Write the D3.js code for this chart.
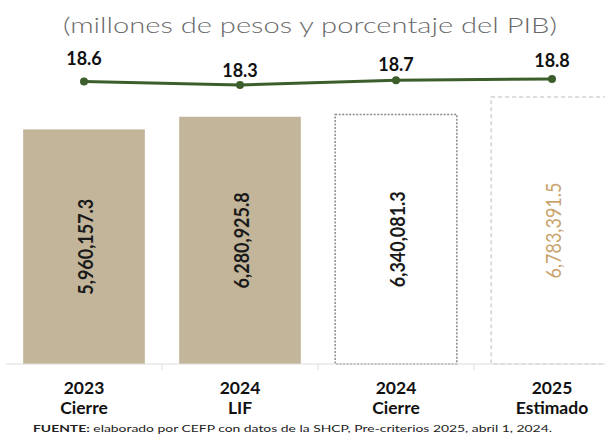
<!DOCTYPE html>
<html><head><meta charset="utf-8">
<script src="https://cdn.jsdelivr.net/npm/d3@7"></script>
<style>html,body{margin:0;padding:0;background:#fff;}svg{display:block;}</style>
</head><body><div id="chart"></div>
<script>
const categories = ["2023|Cierre", "2024|LIF", "2024|Cierre", "2025|Estimado"];
const amounts = [5960157.3, 6280925.8, 6340081.3, 6783391.5];
const amountLabels = ["5,960,157.3", "6,280,925.8", "6,340,081.3", "6,783,391.5"];
const pctPIB = [18.6, 18.3, 18.7, 18.8];
const barStyles = ["solid", "solid", "dashedDark", "dashedLight"];
const title = "(millones de pesos y porcentaje del PIB)";
const source = "elaborado por CEFP con datos de la SHCP, Pre-criterios 2025, abril 1, 2024.";

const W = 605, H = 434;
const svg = d3.select("#chart").append("svg").attr("width", W).attr("height", H);

const baseY = 364;
const x = d3.scaleBand().domain(categories).range([6, 630]).paddingInner(0.22).paddingOuter(0.11);
const y = d3.scaleLinear().domain([0, 6783391.5]).range([baseY, 97]);
const yl = d3.scaleLinear().domain([18.3, 18.8]).range([85, 79]);

// title
svg.append("text").attr("x", 310).attr("y", 33).attr("text-anchor", "middle")
  .attr("font-family", "Lato, 'Open Sans', sans-serif").attr("font-weight", 300).attr("font-size", 21)
  .attr("fill", "#6a6a6a").attr("textLength", 494).attr("lengthAdjust", "spacingAndGlyphs").text(title);

// bars
categories.forEach((c, i) => {
  const st = barStyles[i];
  const r = svg.append("rect").attr("x", x(c)).attr("y", y(amounts[i]))
    .attr("width", x.bandwidth()).attr("height", baseY - y(amounts[i]));
  if (st === "solid") r.attr("fill", "#c2b59a");
  else if (st === "dashedDark") r.attr("fill", "#fff").attr("stroke", "#8a8a8a").attr("stroke-width", 1.5).attr("stroke-dasharray", "2,1.5");
  else r.attr("fill", "#fff").attr("stroke", "#d4d4d4").attr("stroke-width", 1.5).attr("stroke-dasharray", "4,3");
  const cx = x(c) + x.bandwidth() / 2 + 1, cy = (y(amounts[i]) + baseY) / 2;
  svg.append("text").attr("transform", `translate(${cx},${cy}) rotate(-90)`)
    .attr("text-anchor", "middle").attr("dy", "0.36em")
    .attr("font-family", "Lato, 'Roboto', sans-serif")
    .attr("font-weight", st === "dashedLight" ? "normal" : "bold").attr("font-size", 21)
    .attr("textLength", 96).attr("lengthAdjust", "spacingAndGlyphs")
    .attr("fill", st === "dashedLight" ? "#c9a46e" : "#1a1a1a").text(amountLabels[i]);
});

// axis
const axisG = svg.append("g").attr("transform", `translate(0,${baseY})`);
axisG.append("line").attr("x1", 6).attr("x2", W).attr("stroke", "#dcdcdc").attr("stroke-width", 1);
const bounds = categories.slice(1).map(c => x(c) - (x.step() - x.bandwidth()) / 2);
axisG.selectAll("line.tk").data(bounds).join("line").attr("class", "tk")
  .attr("x1", d => d).attr("x2", d => d).attr("y1", 0).attr("y2", 6).attr("stroke", "#dcdcdc");
categories.forEach(c => {
  const [a, b] = c.split("|");
  const cx = x(c) + x.bandwidth() / 2;
  [[a, 394], [b, 414]].forEach(([txt, yy]) => {
    svg.append("text").attr("x", cx).attr("y", yy).attr("text-anchor", "middle")
      .attr("font-family", "Lato, 'DejaVu Sans', sans-serif").attr("font-weight", "bold")
      .attr("font-size", 17.5).attr("fill", "#111").text(txt);
  });
});

// line
const pts = categories.map((c, i) => [x(c) + x.bandwidth() / 2, yl(pctPIB[i])]);
svg.append("path").attr("d", d3.line()(pts)).attr("fill", "none").attr("stroke", "#3b5e2b").attr("stroke-width", 3);
svg.selectAll("circle.pt").data(pts).join("circle").attr("class", "pt")
  .attr("cx", d => d[0]).attr("cy", d => d[1]).attr("r", 4).attr("fill", "#3b5e2b");
const labelOffsets = [16, 8, 9, 12];
svg.selectAll("text.pct").data(pctPIB).join("text").attr("class", "pct")
  .attr("x", (d, i) => pts[i][0]).attr("y", (d, i) => pts[i][1] - labelOffsets[i])
  .attr("text-anchor", "middle").attr("font-family", "Lato, 'DejaVu Sans', sans-serif")
  .attr("font-weight", "bold").attr("font-size", 18).attr("fill", "#111").text(d => d.toFixed(1));

// source
const s = svg.append("text").attr("x", 33).attr("y", 432).attr("font-family", "Lato, 'DejaVu Sans', sans-serif")
  .attr("font-size", 9.5).attr("fill", "#222").attr("textLength", 519).attr("lengthAdjust", "spacingAndGlyphs");
s.append("tspan").attr("font-weight", "bold").text("FUENTE:");
s.append("tspan").text(" " + source);
</script></body></html>
